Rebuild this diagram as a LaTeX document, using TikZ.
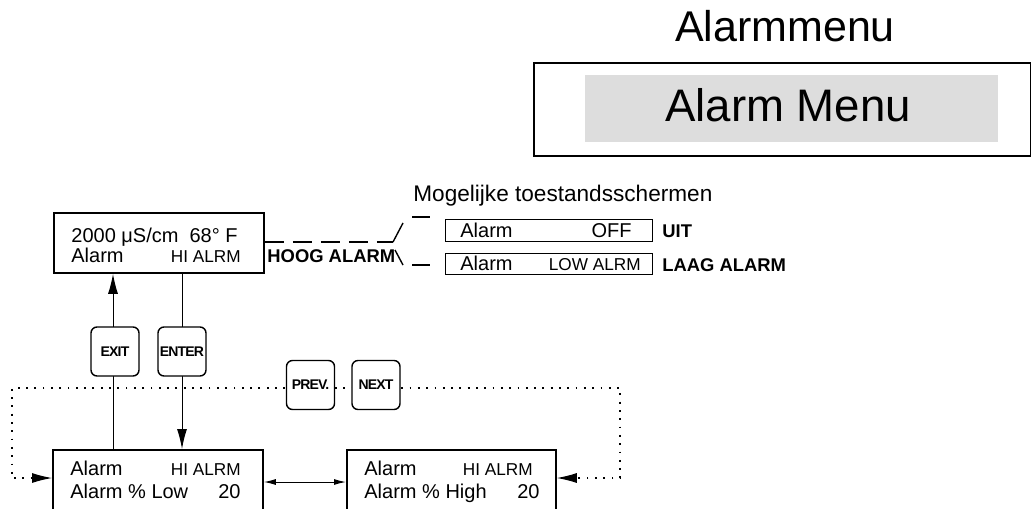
\documentclass[tikz,border=0pt]{standalone}
\usepackage{fontspec}
\setmainfont{Liberation Sans}
\usetikzlibrary{arrows.meta}

\definecolor{menugrijs}{RGB}{221,221,221}

\tikzset{
  display/.style={draw, line width=0.9pt, fill=white, anchor=north west, inner sep=0pt},
  statusbox/.style={draw, line width=0.7pt, anchor=north west, inner sep=0pt},
  knop/.style={draw, line width=0.7pt, rounded corners=3pt, fill=white,
    minimum width=24pt, minimum height=24.5pt, inner sep=0pt,
    font=\fontsize{7}{8}\selectfont\bfseries\addfontfeature{LetterSpace=-6}},
  lcd/.style={inner sep=0pt, font=\fontsize{10}{12}\selectfont},
  lcdklein/.style={inner sep=0pt, font=\fontsize{8.6}{10}\selectfont},
  toestand/.style={inner sep=0pt, anchor=base west, font=\fontsize{9.2}{11}\selectfont\bfseries},
  pijl/.style={line width=0.5pt, -{Latex[length=10pt, width=5pt]}},
  heen/.style={line width=0.5pt, {Latex[length=6pt, width=3pt]}-{Latex[length=6pt, width=3pt]}},
  lus/.style={line width=0.9pt, dash pattern=on 0.9pt off 3.25pt},
  streep/.style={line width=0.7pt, dash pattern=on 9.5pt off 4.5pt},
}

\begin{document}
\begin{tikzpicture}[x=0.5pt, y=-0.5pt]
\useasboundingbox (0,0) rectangle (1031,508);
\clip (0,0) rectangle (1031,508);

% menu kop
\node[inner sep=0pt, anchor=base, font=\fontsize{21.5}{24}\selectfont] (kop) at (785,42) {Alarmmenu};
\node[draw, line width=1pt, anchor=north west, minimum width=248.5pt, minimum height=46.5pt, inner sep=0pt] (menukader) at (533,62) {};
\node[fill=menugrijs, anchor=north west, minimum width=206.5pt, minimum height=33.5pt, inner sep=0pt] (menuvlak) at (585,75) {};
\node[inner sep=0pt, anchor=base, font=\fontsize{22.8}{26}\selectfont] (menunaam) at (788,121) {Alarm Menu};

% displays
\node[display, minimum width=105pt, minimum height=30pt] (boven) at (53,212) {};
\node[display, minimum width=105pt, minimum height=40pt] (laag) at (52,449) {};
\node[display, minimum width=104.5pt, minimum height=40pt] (hoog) at (346,449) {};

\node[lcd, anchor=base west] (boven1) at (71,242) {2000 μS/cm~ 68° F};
\node[lcd, anchor=base west] (boven2) at (71,262) {Alarm};
\node[lcdklein, anchor=base east] (boven3) at (241,262) {HI ALRM};

\node[lcd, anchor=base west] (laag1) at (70,475) {Alarm};
\node[lcdklein, anchor=base east] (laag2) at (241,475) {HI ALRM};
\node[lcd, anchor=base west] (laag3) at (70,498) {Alarm \% Low};
\node[lcd, anchor=base east] (laag4) at (241,498) {20};

\node[lcd, anchor=base west] (hoog1) at (364,475) {Alarm};
\node[lcdklein, anchor=base east] (hoog2) at (533,475) {HI ALRM};
\node[lcd, anchor=base west] (hoog3) at (364,498) {Alarm \% High};
\node[lcd, anchor=base east] (hoog4) at (540,498) {20};

% toestandsschermen
\node[anchor=base west, inner sep=0pt, font=\fontsize{11.3}{13}\selectfont] (scherm) at (413,201) {Mogelijke toestandsschermen};
\node[statusbox, minimum width=103.5pt, minimum height=11pt] (uit) at (445,219) {};
\node[statusbox, minimum width=103.5pt, minimum height=10.5pt] (laagalarm) at (445,253) {};
\node[lcd, anchor=base west] (uit1) at (460,237) {Alarm};
\node[lcd, anchor=base east] (uit2) at (632,237) {OFF};
\node[lcd, anchor=base west] (laagalarm1) at (460,270) {Alarm};
\node[lcdklein, anchor=base east] (laagalarm2) at (641,270) {LOW ALRM};
\node[toestand] (uitlabel) at (662,237) {UIT};
\node[toestand] (laaglabel) at (662,271) {LAAG ALARM};
\node[toestand] (hooglabel) at (267,262) {HOOG ALARM};

% schakelaar
\coordinate (knik) at (393,242);
\draw[streep] (boven.east |- knik) -- (knik);
\draw[line width=0.7pt] (knik) -- (403,223);
\draw[line width=0.7pt] (395,250) -- (403,265);
\draw[line width=0.7pt] (412,217) -- (430,217);
\draw[line width=0.7pt] (412,265) -- (430,265);

% exit / enter
\coordinate (exitlijn) at (113,0);
\coordinate (enterlijn) at (182,0);
\draw[pijl] (laag.north -| exitlijn) -- (boven.south -| exitlijn);
\draw[pijl] (boven.south -| enterlijn) -- (laag.north -| enterlijn);

% prev / next lus
\coordinate (linksboven) at (12,388);
\coordinate (rechtsboven) at (620,388);
\coordinate (lusy) at (0,478);
\coordinate (tussen) at (0,482);
\draw[lus] (310,388) -- (linksboven) |- ([xshift=-9pt]laag.west |- lusy);
\draw[-{Latex[length=10pt, width=5pt]}, line width=0.5pt] ([xshift=-9pt]laag.west |- lusy) -- (laag.west |- lusy);
\draw[lus] (310,388) -- (rechtsboven) |- ([xshift=9pt]hoog.east |- lusy);
\draw[-{Latex[length=10pt, width=5pt]}, line width=0.5pt] ([xshift=9pt]hoog.east |- lusy) -- (hoog.east |- lusy);
\draw[heen] (laag.east |- tussen) -- (hoog.west |- tussen);

% knoppen
\node[knop] (exit) at (115,351.5) {EXIT};
\node[knop] (enter) at (182,351.5) {ENTER};
\node[knop] (prev) at (310.5,385) {PREV.};
\node[knop] (next) at (376,385) {NEXT};
\end{tikzpicture}
\end{document}
